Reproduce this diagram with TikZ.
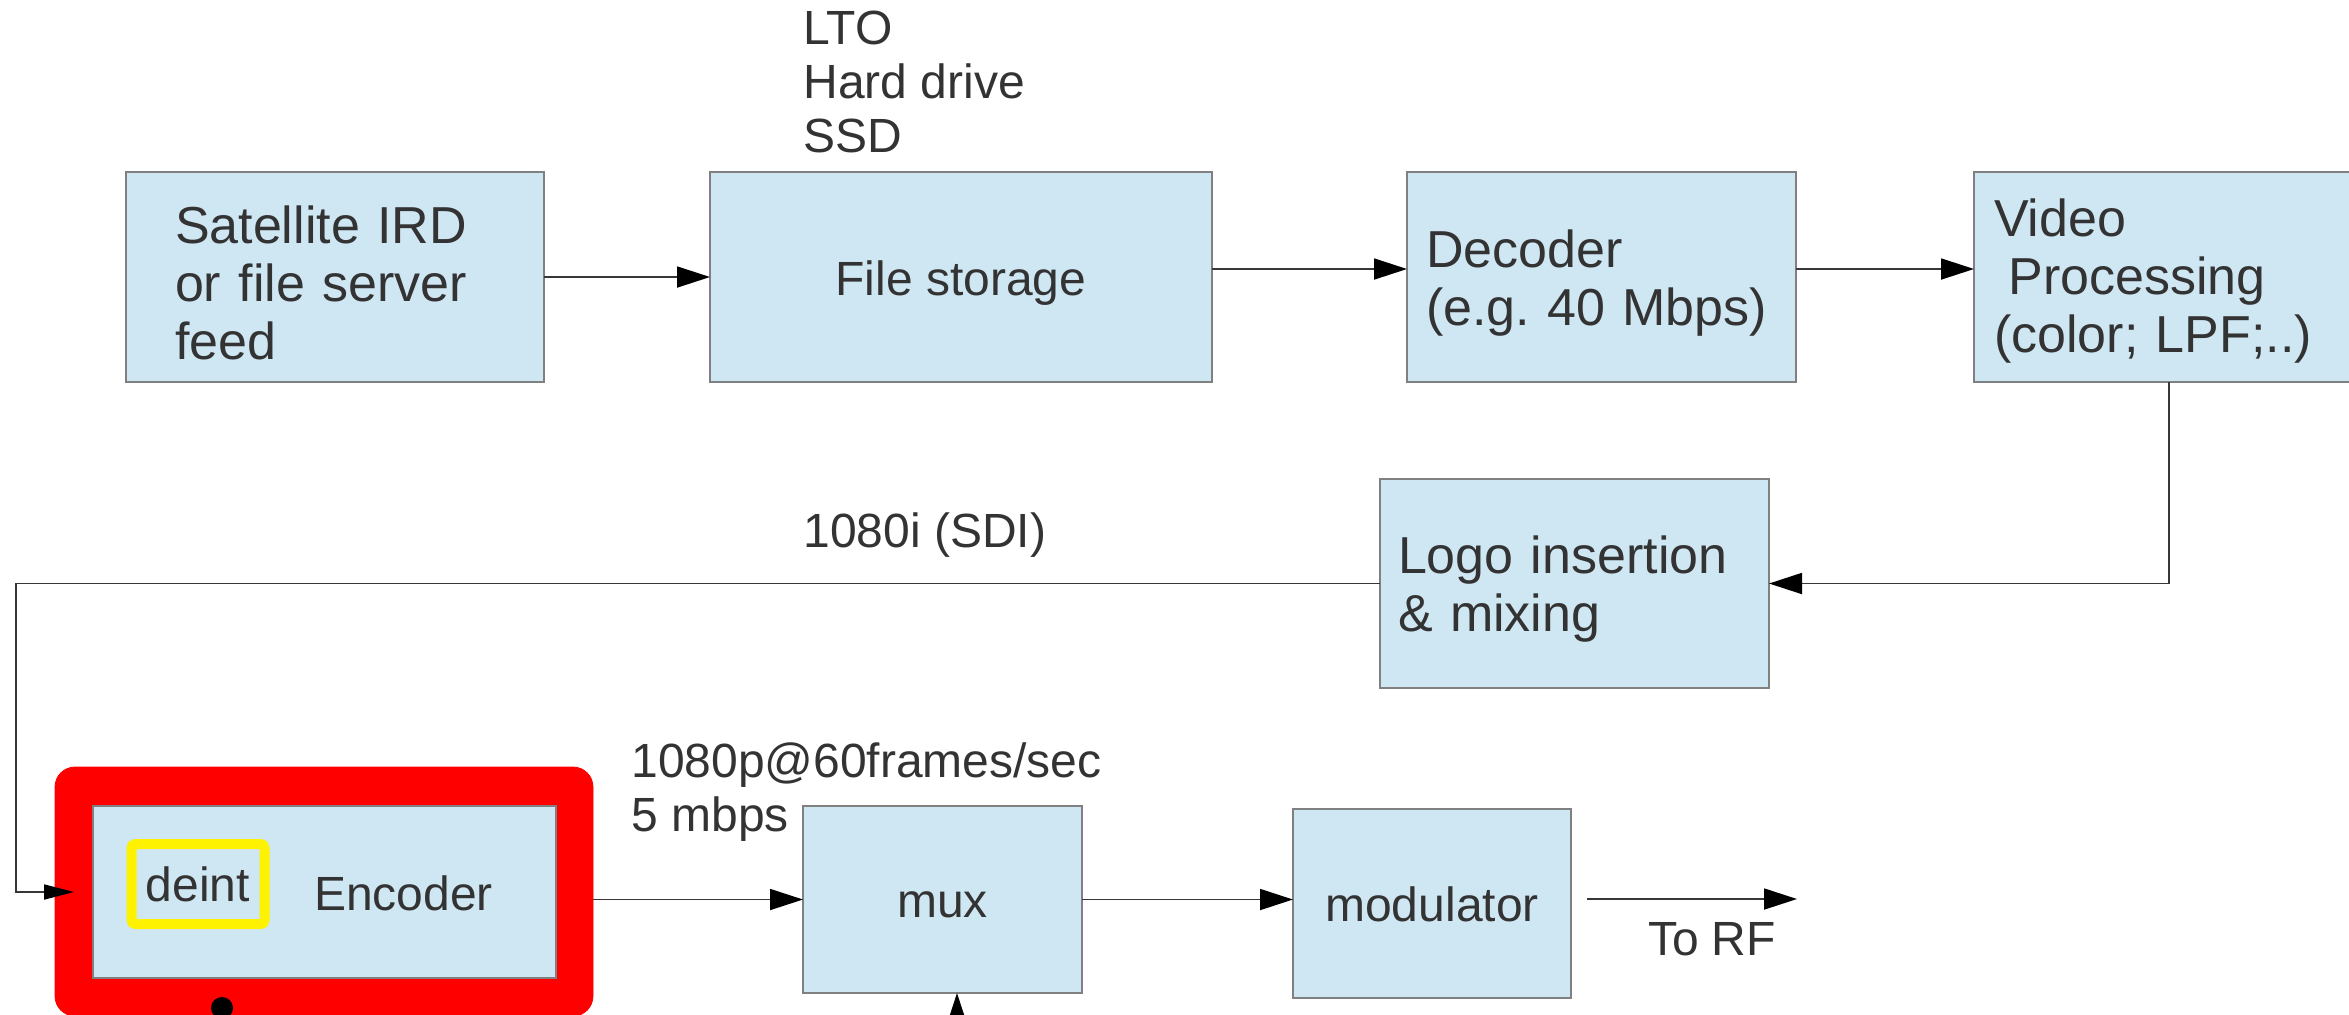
\documentclass[tikz,border=0pt]{standalone}
\usepackage{fontspec}
\setmainfont{Liberation Sans}
\usetikzlibrary{arrows.meta,calc}
\definecolor{boxfill}{RGB}{207,230,243}
\definecolor{boxline}{RGB}{128,128,128}
\definecolor{txt}{RGB}{51,51,51}
\definecolor{lncol}{RGB}{55,55,55}
\frenchspacing
\begin{document}
\begin{tikzpicture}[x=0.5pt,y=-0.5pt,
  box/.style={draw=boxline, line width=0.6pt, fill=boxfill, text=txt, inner sep=0pt, outer sep=0pt},
  big/.style={font=\fontsize{26}{29}\selectfont},
  small/.style={font=\fontsize{24}{27}\selectfont},
  oneline/.style={text height=18pt, text depth=0pt},
  lbl/.style={text=txt, inner sep=0pt, align=left, font=\fontsize{24}{27}\selectfont},
  conn/.style={draw=lncol, line width=0.9pt, -{Triangle[length=16.5pt,width=10.5pt,color=black]}},
  conns/.style={draw=lncol, line width=0.9pt, -{Triangle[length=15pt,width=7.5pt,color=black]}},
]
\useasboundingbox (0,0) rectangle (2349,1014);

% top row
\node[box, big, minimum width=209pt, minimum height=105pt, text width=160pt, inner xsep=24.5pt, align=left] (sat) at (335,277) {\rule{0pt}{24.6pt}Satellite IRD\\or file server\\feed};
\node[box, small, oneline, minimum width=251pt, minimum height=105pt] (file) at (961,277) {File storage};
\node[box, big, minimum width=194.5pt, minimum height=105pt, text width=175.5pt, inner xsep=9.5pt, align=left] (dec) at (1601.5,277) {\rule{0pt}{24.6pt}Decoder\\(e.g. 40 Mbps)};
\node[box, big, minimum width=195pt, minimum height=105pt, text width=175pt, inner xsep=10pt, align=left] (vid) at (2169,277) {\rule{0pt}{22.4pt}Video\\\hspace*{0.28em}Processing\\(color; LPF;..)};

% middle
\node[box, big, minimum width=194.5pt, minimum height=104.5pt, text width=176.5pt, inner xsep=9pt, align=left] (logo) at (1574.5,583.5) {\rule{0pt}{24.6pt}Logo insertion\\\& mixing};

% bottom row
\node[draw=red, fill=red, rounded corners=10pt, minimum width=269pt, minimum height=124.5pt, inner sep=0pt] (encframe) at (324,891.5) {};
\node[box, small, oneline, minimum width=231.5pt, minimum height=86pt, text width=168.5pt, inner xsep=31.5pt, align=right] (enc) at (324.5,892) {Encoder};
\node[draw=yellow, line width=5pt, rounded corners=2pt, minimum width=66.5pt, minimum height=40pt, inner sep=0pt, text=txt, small] (deint) at (198,884) {deint};
\node[box, small, oneline, minimum width=139.5pt, minimum height=93.5pt] (mux) at (942.5,899.5) {mux};
\node[box, small, oneline, minimum width=139pt, minimum height=94.5pt] (mod) at (1432,903.5) {modulator};

% labels
\node[lbl, anchor=west] (media) at (803,82) {LTO\\Hard drive\\SSD};
\node[lbl, anchor=west] (sdi) at (803,535) {1080i (SDI)};
\node[lbl, anchor=west] (p60) at (631,792) {1080p@60frames/sec\\5 mbps};
\node[lbl] (torf) at (1712,939) {To RF};

% coordinates
\coordinate (lft) at (16,0);
\coordinate (rf) at (1797,899);
\coordinate (muxin) at (957,1030);
\coordinate (dot) at (222,1008);

% connectors
\draw[conn] (sat.east) -- (file.west);
\draw[conn] ([yshift=4pt]file.east) -- ([yshift=4pt]dec.west);
\draw[conn] ([yshift=4pt]dec.east) -- ([yshift=4pt]vid.west);
\draw[conn] (vid.south) |- (logo.east);
\draw[conns] (logo.west) -- (logo.west -| lft) |- ($(enc.west)+(-9.5pt,0)$);
\draw[conn] (encframe.east |- mux.west) -- (mux.west);
\draw[conn] (mux.east) -- (mux.east -| mod.west);
\draw[conn] ($(mod.east |- rf)+(8pt,0)$) -- (rf);
\draw[conn] (muxin) -- (muxin |- mux.south);
\fill[black] (dot) circle (5.5pt);
\end{tikzpicture}
\end{document}
